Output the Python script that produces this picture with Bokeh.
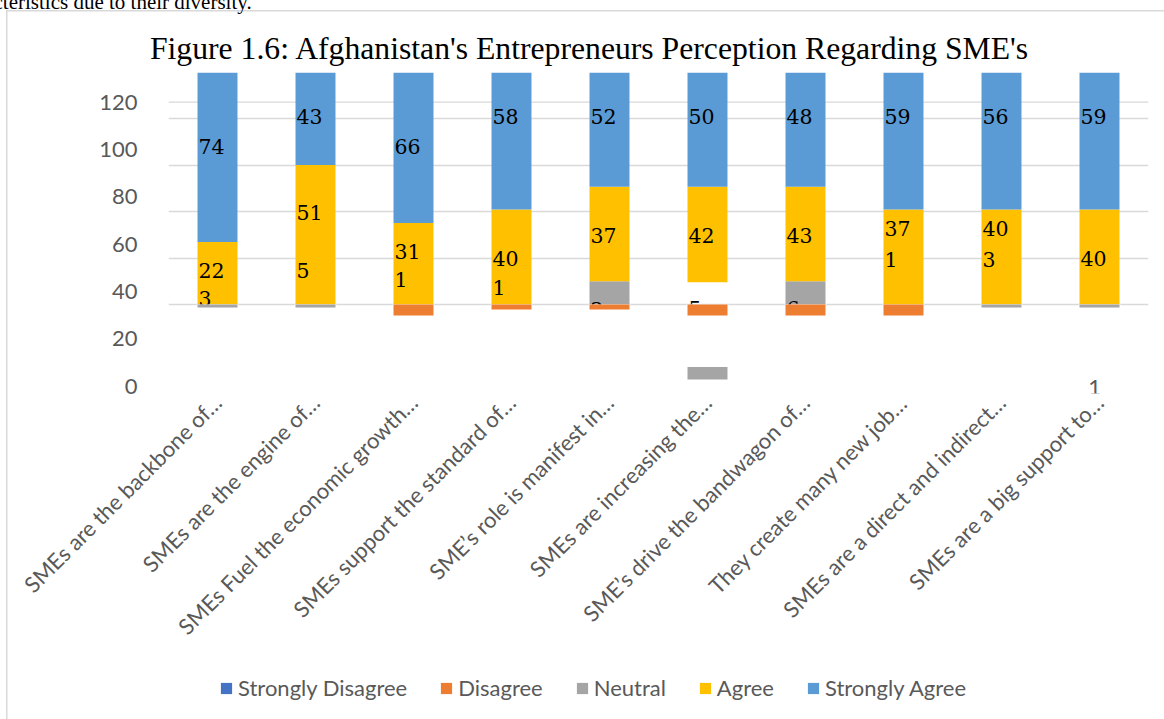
import math
import numpy as np
from bokeh.plotting import figure
from bokeh.layouts import column
from bokeh.models import (Range1d, LinearAxis, FixedTicker, Legend, LegendItem, Title,
                          ColumnDataSource, FactorRange, Span)
from bokeh.transform import dodge
from bokeh.core.properties import value
from bokeh.embed import file_html
from bokeh.resources import INLINE

# ---------------- data ----------------
categories = ["SMEs are the backbone of…", "SMEs are the engine of…",
              "SMEs Fuel the economic growth…", "SMEs support the standard of…",
              "SME’s role is manifest in…", "SMEs are increasing the…",
              "SME’s drive the bandwagon of…", "They create many new job…",
              "SMEs are a direct and indirect…", "SMEs are a big support to…"]

# segment sizes on the bars' own scale (baseline 0, top of plot 100)
strongly_disagree = [0, 0, 0, 0, 0, 0, 0, 0, 0, 0]
disagree = [0, 0, 4.7, 2.1, 2.1, 4.7, 4.7, 4.7, 0, 0]          # drawn below baseline
neutral_below = [1.3, 1.3, 0, 0, 0, 0, 0, 0, 1.3, 1.3]          # drawn below baseline
neutral_above = [0, 0, 0, 0, 10.1, 0, 10.1, 0, 0, 0]
agree_gap = [0, 0, 0, 0, 0, 9.6, 0, 0, 0, 0]
agree = [27.0, 60.1, 35.1, 41.0, 40.7, 41.2, 40.7, 41.0, 41.0, 41.0]
strongly_agree = [74, 43, 66, 59, 52, 50, 50, 59, 59, 59]

# stray neutral block (value-axis units)
stray_neutral_cat = ["SMEs are increasing the…"]
stray_neutral_low = [2.9]
stray_neutral_high = [8.2]

# data labels
sa_labels = ["74", "43", "66", "58", "52", "50", "48", "59", "56", "59"]
agree_labels_1 = ["22", "51", "31", "40", "37", "42", "43", "37", "40", "40"]
agree_labels_2 = ["3", "5", "1", "1", "2", "5", "6", "1", "3", ""]
stray_label_cat = ["SMEs are a big support to…"]
stray_label_text = ["1"]

value_ticks = [0, 20, 40, 60, 80, 100, 120]
legend_names = ["Strongly Disagree", "Disagree", "Neutral", "Agree", "Strongly Agree"]
title_text = "Figure 1.6: Afghanistan's Entrepreneurs Perception Regarding SME's"
page_text = "cteristics due to their diversity."

# label anchor heights (bar scale)
sa_label_y = [68.2, 81.1, 68.2, 81.1, 81.1, 81.1, 81.1, 81.1, 81.1, 81.1]
agree_label_y1 = [14.9, 39.7, 23.0, 20.0, 29.8, 29.8, 29.8, 32.6, 32.6, 19.7]
agree_label_y2 = [2.8, 14.5, 10.7, 7.3, -2.0, -1.9, -1.9, 19.4, 19.4, 0.0]
stray_label_y = [-0.5]

# ---------------- styling / geometry ----------------
C_SD, C_D, C_N, C_A, C_SA = "#4472c4", "#ed7d31", "#a5a5a5", "#ffc000", "#5b9bd5"
GRAY_TXT = "#595959"
GRID = "#d9d9d9"
SANS = "Lato"

W = 1164
MAIN_H, LEG_H = 652, 67
FT, FB, FL, FR = 72, 398, 168, 1148
base_px, bar_scale = 307.7, (307.7 - 72) / 100.0
val0_px, val_scale = 390.7, 2.405

bar_lo = (base_px - FB) / bar_scale
val_lo = (val0_px - FB) / val_scale
val_hi = (val0_px - FT) / val_scale

# ---------------- main chart ----------------
p = figure(width=W, height=MAIN_H, output_backend="svg", toolbar_location=None,
           x_range=FactorRange(factors=categories, range_padding=0),
           y_range=Range1d(bar_lo, 100), y_axis_location=None,
           min_border_left=FL, min_border_right=W - FR,
           min_border_top=FT, min_border_bottom=MAIN_H - FB)
p.outline_line_color = None
p.background_fill_color = "white"
p.border_fill_alpha = 0
p.extra_y_ranges = {"value": Range1d(val_lo, val_hi)}

p.add_layout(Title(text=title_text, align="left", offset=-18.6, standoff=13,
                   text_font="Liberation Serif", text_font_size="31.7px",
                   text_font_style="normal", text_color="black",
                   vertical_align="bottom"), "above")
p.add_layout(Title(text=page_text + "\n", align="left", offset=-FL - 5 - 2, standoff=-30,
                   text_font="Liberation Serif", text_font_size="21px",
                   text_font_style="normal", text_color="black",
                   vertical_align="bottom"), "above")

p.xgrid.visible = False
p.ygrid.ticker = FixedTicker(ticks=[0, 20, 40, 60, 80, 100])
p.ygrid.grid_line_color = GRID
p.ygrid.grid_line_width = 1.3
p.add_layout(Span(location=120, dimension="width", y_range_name="value",
                  line_color=GRID, line_width=1.3, level="underlay"))

yax = LinearAxis(y_range_name="value", ticker=FixedTicker(ticks=value_ticks))
yax.axis_line_color = None
yax.major_tick_line_color = None
yax.minor_tick_line_color = None
yax.major_tick_out = 0
yax.major_label_standoff = 31
yax.major_label_text_font = SANS
yax.major_label_text_font_size = "22px"
yax.major_label_text_color = GRAY_TXT
p.add_layout(yax, "left")

xax = p.xaxis[0]
xax.axis_line_color = None
xax.major_tick_line_color = None
xax.major_tick_out = 0
xax.major_label_standoff = 5
xax.major_label_orientation = math.pi / 4
xax.major_label_text_font = SANS
xax.major_label_text_font_size = "22px"
xax.major_label_text_color = GRAY_TXT

na = np.array(neutral_above)
gap = np.array(agree_gap)
ag = np.array(agree)
sa = np.array(strongly_agree)
dis = np.array(disagree)
nb = np.array(neutral_below)

src = ColumnDataSource(dict(
    cat=categories,
    sd_b=np.zeros(10), sd_t=np.array(strongly_disagree, dtype=float),
    n_b=np.zeros(10), n_t=na,
    a_b=na + gap, a_t=na + gap + ag,
    sa_b=na + gap + ag, sa_t=na + gap + ag + sa,
    d_b=-dis, d_t=np.zeros(10),
    nb_b=-dis - nb, nb_t=-dis,
    mask_b=np.full(10, bar_lo), mask_t=np.zeros(10),
    sa_lab=sa_labels, sa_y=sa_label_y,
    a_lab1=agree_labels_1, a_y1=agree_label_y1,
    a_lab2=agree_labels_2, a_y2=agree_label_y2,
))

BW = 0.408
p.vbar(x="cat", bottom="sd_b", top="sd_t", width=BW, source=src, fill_color=C_SD, line_color=None)
p.vbar(x="cat", bottom="n_b", top="n_t", width=BW, source=src, fill_color=C_N, line_color=None)
p.vbar(x="cat", bottom="a_b", top="a_t", width=BW, source=src, fill_color=C_A, line_color=None)
p.vbar(x="cat", bottom="sa_b", top="sa_t", width=BW, source=src, fill_color=C_SA, line_color=None)

LBL_FONT = value("DejaVu Serif")
lx = dodge("cat", -BW / 2 + 0.01, range=p.x_range)
for col_t, col_y in (("sa_lab", "sa_y"), ("a_lab1", "a_y1"), ("a_lab2", "a_y2")):
    p.text(x=lx, y=col_y, text=col_t, source=src, text_font=LBL_FONT,
           text_font_size="20.5px", text_color="black", text_align="left",
           text_baseline="middle")

# labels are cut at the baseline: white mask below it
p.vbar(x="cat", bottom="mask_b", top="mask_t", width=BW + 0.02, source=src,
       fill_color="white", line_color=None)

p.vbar(x="cat", bottom="d_b", top="d_t", width=BW, source=src, fill_color=C_D, line_color=None)
p.vbar(x="cat", bottom="nb_b", top="nb_t", width=BW, source=src, fill_color=C_N, line_color=None)

stray = ColumnDataSource(dict(cat=stray_neutral_cat, b=stray_neutral_low, t=stray_neutral_high))
p.vbar(x="cat", bottom="b", top="t", width=BW, source=stray, y_range_name="value",
       fill_color=C_N, line_color=None)

stray_lab = ColumnDataSource(dict(cat=stray_label_cat, y=stray_label_y, t=stray_label_text))
p.text(x=dodge("cat", -0.115, range=p.x_range), y="y", text="t", source=stray_lab,
       y_range_name="value", text_font=value(SANS), text_font_size="22px",
       text_color=GRAY_TXT, text_align="left", text_baseline="middle")

# ---------------- legend strip (frame aligned with the chart's) ----------------
leg = figure(width=W, height=LEG_H, output_backend="svg", toolbar_location=None,
             x_range=Range1d(0, 1), y_range=Range1d(0, 1),
             x_axis_location=None, y_axis_location=None, min_border=0)
leg.grid.visible = False
leg.outline_line_color = None
leg.background_fill_alpha = 0
leg.border_fill_alpha = 0
swatches = [leg.vbar(x=[0], top=[0], width=0, fill_color=c, line_color=None)
            for c in (C_SD, C_D, C_N, C_A, C_SA)]
legend = Legend(items=[LegendItem(label=n, renderers=[r]) for n, r in zip(legend_names, swatches)],
                orientation="horizontal", location=(219 - FL, 18),
                glyph_width=14, glyph_height=14, label_standoff=5, spacing=32,
                padding=0, margin=0, border_line_color=None, background_fill_alpha=0,
                label_text_font=SANS, label_text_font_size="22px", label_text_color=GRAY_TXT)
leg.add_layout(legend)

page = column(p, leg, spacing=0)
page.styles = {"background": "linear-gradient(#d9d9d9,#d9d9d9) 6px 10px / 1.5px 100% no-repeat, "
                             "linear-gradient(#d9d9d9,#d9d9d9) 6px 10px / 100% 1.5px no-repeat, white"}

open("out.html", "w").write(file_html(page, INLINE))
